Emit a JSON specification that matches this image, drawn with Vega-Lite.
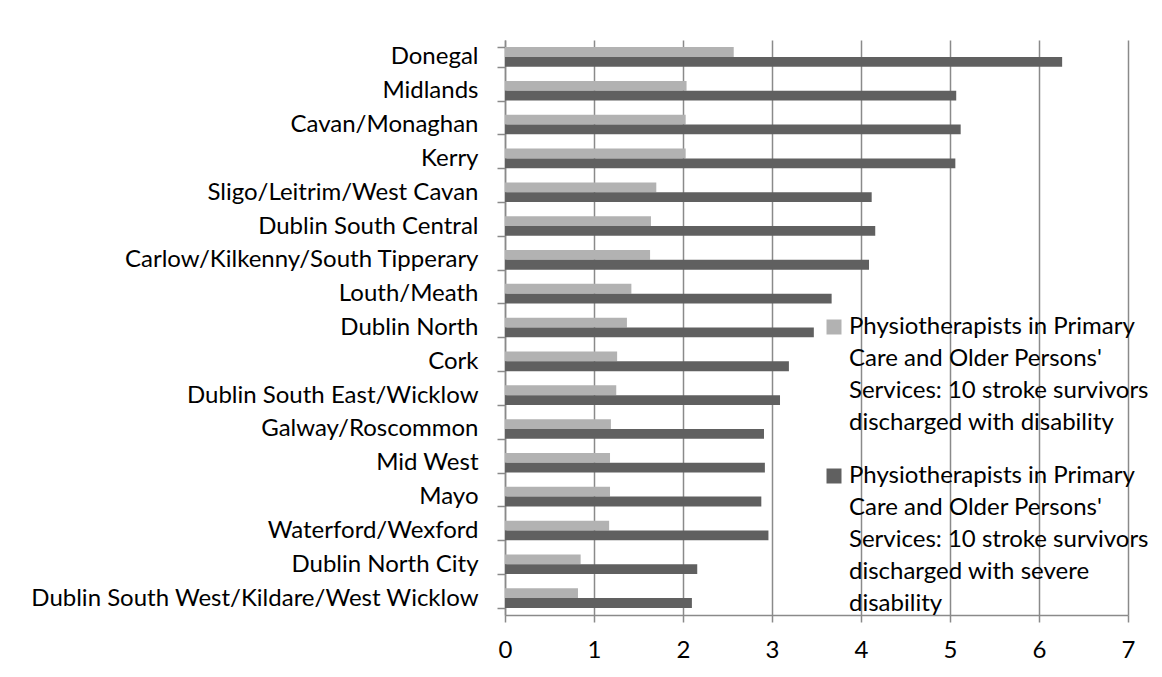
{
  "$schema": "https://vega.github.io/schema/vega-lite/v6.json",
  "autosize": "none",
  "width": 623,
  "height": 575,
  "padding": {"left": 505, "top": 40, "right": 34, "bottom": 62},
  "background": "white",
  "config": {
    "view": {"stroke": null},
    "font": "Lato",
    "style": {"guide-label": {"lineHeight": 32}}
  },
  "data": {
    "values": [
      {"region": "Donegal", "s": "A", "v": 2.57}, {"region": "Donegal", "s": "B", "v": 6.26},
      {"region": "Midlands", "s": "A", "v": 2.04}, {"region": "Midlands", "s": "B", "v": 5.07},
      {"region": "Cavan/Monaghan", "s": "A", "v": 2.03}, {"region": "Cavan/Monaghan", "s": "B", "v": 5.12},
      {"region": "Kerry", "s": "A", "v": 2.03}, {"region": "Kerry", "s": "B", "v": 5.06},
      {"region": "Sligo/Leitrim/West Cavan", "s": "A", "v": 1.70}, {"region": "Sligo/Leitrim/West Cavan", "s": "B", "v": 4.12},
      {"region": "Dublin South Central", "s": "A", "v": 1.64}, {"region": "Dublin South Central", "s": "B", "v": 4.16},
      {"region": "Carlow/Kilkenny/South Tipperary", "s": "A", "v": 1.63}, {"region": "Carlow/Kilkenny/South Tipperary", "s": "B", "v": 4.09},
      {"region": "Louth/Meath", "s": "A", "v": 1.42}, {"region": "Louth/Meath", "s": "B", "v": 3.67},
      {"region": "Dublin North", "s": "A", "v": 1.37}, {"region": "Dublin North", "s": "B", "v": 3.47},
      {"region": "Cork", "s": "A", "v": 1.26}, {"region": "Cork", "s": "B", "v": 3.19},
      {"region": "Dublin South East/Wicklow", "s": "A", "v": 1.25}, {"region": "Dublin South East/Wicklow", "s": "B", "v": 3.09},
      {"region": "Galway/Roscommon", "s": "A", "v": 1.19}, {"region": "Galway/Roscommon", "s": "B", "v": 2.91},
      {"region": "Mid West", "s": "A", "v": 1.18}, {"region": "Mid West", "s": "B", "v": 2.92},
      {"region": "Mayo", "s": "A", "v": 1.18}, {"region": "Mayo", "s": "B", "v": 2.88},
      {"region": "Waterford/Wexford", "s": "A", "v": 1.17}, {"region": "Waterford/Wexford", "s": "B", "v": 2.96},
      {"region": "Dublin North City", "s": "A", "v": 0.85}, {"region": "Dublin North City", "s": "B", "v": 2.16},
      {"region": "Dublin South West/Kildare/West Wicklow", "s": "A", "v": 0.82}, {"region": "Dublin South West/Kildare/West Wicklow", "s": "B", "v": 2.10}
    ]
  },
  "mark": {"type": "bar"},
  "encoding": {
    "y": {
      "field": "region", "type": "nominal", "sort": null, "title": null,
      "scale": {"paddingInner": 0.42, "paddingOuter": 0.21},
      "axis": {
        "tickBand": "extent", "domainColor": "#8a8a8a", "domainWidth": 1.5, "tickColor": "#8a8a8a", "tickWidth": 1.5,
        "tickSize": 8, "labelPadding": 19, "labelFontSize": 24, "labelLimit": 600,
        "labelColor": "#000000"
      }
    },
    "x": {
      "field": "v", "type": "quantitative", "title": null,
      "scale": {"domain": [0, 7], "nice": false},
      "axis": {
        "values": [0, 1, 2, 3, 4, 5, 6, 7], "grid": true, "gridColor": "#8a8a8a", "gridWidth": 1.5,
        "domainColor": "#8a8a8a", "domainWidth": 1.5, "tickColor": "#8a8a8a", "tickWidth": 1.5, "tickSize": 7, "labelPadding": 16,
        "labelFontSize": 24, "labelColor": "#000000", "labelFlush": false
      }
    },
    "yOffset": {"field": "s", "type": "nominal", "sort": ["A", "B"]},
    "color": {
      "field": "s", "type": "nominal",
      "scale": {"domain": ["A", "B"], "range": ["#b2b2b2", "#606060"]},
      "legend": {
        "title": null, "orient": "none", "legendX": 317, "legendY": 275,
        "symbolType": "square", "symbolSize": 225, "symbolStrokeWidth": 0,
        "labelFontSize": 24, "labelColor": "#000000",
        "labelLimit": 600, "labelOffset": 3, "rowPadding": 29, "labelBaseline": "middle",
        "labelExpr": "datum.value == 'A' ? ['Physiotherapists in Primary', \"Care and Older Persons'\", 'Services: 10 stroke survivors', 'discharged with disability'] : ['Physiotherapists in Primary', \"Care and Older Persons'\", 'Services: 10 stroke survivors', 'discharged with severe', 'disability']"
      }
    }
  }
}
